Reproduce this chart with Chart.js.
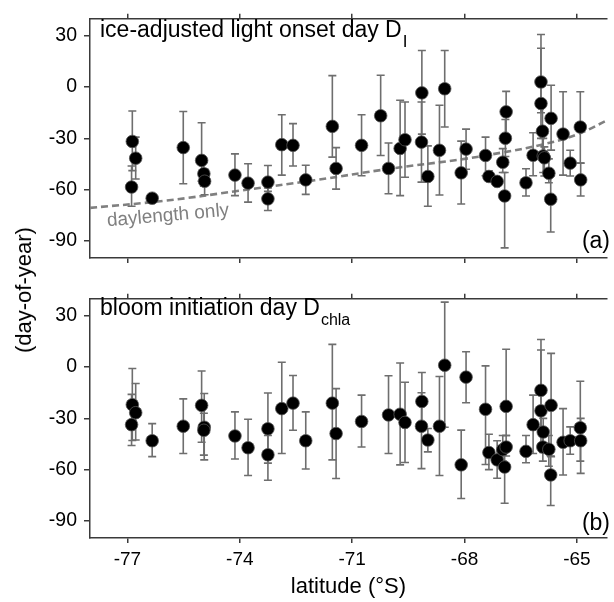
<!DOCTYPE html>
<html><head><meta charset="utf-8">
<script src="https://cdn.jsdelivr.net/npm/chart.js@4.4.1/dist/chart.umd.min.js"></script>
<style>
html,body{margin:0;padding:0;background:#fff;width:614px;height:602px;overflow:hidden;}
#wa{position:absolute;left:0;top:0;width:614px;height:280px;}
#wb{position:absolute;left:0;top:280px;width:614px;height:322px;}
#ytitle{position:absolute;left:24px;top:290px;transform:translate(-50%,-50%) rotate(-90deg);font:22px "Liberation Sans",Arial,sans-serif;color:#000;white-space:nowrap;}
</style></head><body>
<div id="wa"><canvas id="ca" width="614" height="280"></canvas></div>
<div id="wb"><canvas id="cb" width="614" height="322"></canvas></div>
<div id="ytitle">(day-of-year)</div>
<script>
// ---- data ----
const xTicks = [-77, -74, -71, -68, -65];
const yTicks = [30, 0, -30, -60, -90];

// panel (a): ice-adjusted light onset day
const latA = [-76.87,-76.78,-76.89,-76.34,-75.51,-75.02,-74.96,-74.94,-74.13,-73.78,-73.25,-73.25,-72.88,-72.58,-72.24,-71.53,-71.43,-70.75,-70.24,-70.03,-69.72,-69.59,-69.14,-69.15,-68.98,-68.67,-68.53,-68.09,-67.96,-67.44,-67.35,-67.13,-66.98,-66.93,-66.91,-66.89,-66.36,-66.17,-65.96,-65.96,-65.92,-65.90,-65.87,-65.75,-65.69,-65.70,-65.37,-65.18,-64.91,-64.90];
const valA = [-31.8,-41.6,-58.5,-65.0,-35.4,-42.9,-50.7,-55.1,-51.5,-56.2,-55.6,-65.4,-33.7,-34.1,-54.3,-23.0,-47.6,-34.1,-16.8,-47.6,-35.9,-30.8,-3.4,-32.2,-52.3,-37.0,-1.0,-50.2,-36.3,-40.0,-52.3,-55.2,-44.0,-63.7,-29.9,-14.5,-56.0,-39.9,3.0,-9.6,-25.8,-40.3,-41.4,-50.4,-18.3,-65.6,-27.5,-44.5,-23.4,-54.3];
const loA  = [-48.9,-53.8,-69.7,-67.0,-56.6,-55.0,-58.0,-63.0,-63.5,-67.3,-61.0,-72.2,-51.5,-46.2,-62.8,-41.0,-59.7,-51.9,-40.0,-62.4,-63.5,-52.8,-27.5,-55.6,-69.7,-63.1,-23.4,-68.4,-48.1,-51.9,-55.0,-57.0,-50.0,-94.1,-40.6,-28.0,-63.7,-51.9,-15.0,-30.0,-40.0,-50.0,-52.0,-56.0,-36.9,-84.8,-51.5,-52.0,-44.4,-63.7];
const hiA  = [-14.0,-29.3,-46.2,-63.0,-14.3,-20.9,-44.0,-48.0,-39.1,-44.9,-45.9,-59.0,-16.2,-21.4,-45.7,6.7,-35.4,-16.2,6.9,-32.7,-7.7,-8.7,21.4,-8.7,-34.4,-10.6,21.4,-31.6,-24.6,-29.3,-49.0,-53.0,-36.0,-50.0,-19.0,-2.5,-47.8,-26.7,30.8,22.7,-10.0,-30.0,-35.0,-42.0,1.1,-52.0,-2.7,-37.0,-2.7,-44.5];

// daylength-only curve (panel a)
const dayLat = [-78,-76,-74,-72,-70,-68,-67,-66,-65,-64.2];
const dayVal = [-70.7,-66.5,-60.6,-54.5,-47.8,-42.0,-38.3,-34.0,-27.8,-19.5];

// panel (b): bloom initiation day
const latB = [-76.87,-76.78,-76.89,-76.34,-75.51,-75.02,-74.95,-74.96,-74.13,-73.78,-73.25,-73.25,-72.88,-72.58,-72.24,-71.53,-71.43,-70.75,-70.03,-69.72,-69.59,-69.14,-69.15,-68.98,-68.67,-68.53,-67.96,-68.09,-67.44,-67.35,-67.13,-66.98,-66.89,-66.93,-66.89,-66.36,-66.17,-65.96,-65.96,-65.90,-65.91,-65.75,-65.69,-65.70,-65.37,-65.18,-64.91,-64.90];
const valB = [-22.0,-26.7,-33.7,-43.1,-34.6,-22.4,-35.2,-37.0,-40.3,-47.2,-36.1,-51.3,-24.3,-21.1,-43.1,-21.1,-38.9,-31.8,-28.0,-27.6,-32.4,-20.1,-34.6,-42.7,-34.6,1.1,-5.9,-57.2,-24.7,-50.0,-54.3,-48.3,-46.8,-58.5,-23.0,-49.3,-33.7,-13.6,-25.6,-38.0,-46.8,-48.1,-22.4,-63.1,-44.0,-43.1,-35.5,-43.1];
const loB  = [-43.0,-42.7,-45.9,-52.4,-50.6,-44.0,-54.3,-51.5,-53.8,-63.4,-56.2,-66.2,-50.6,-37.0,-59.6,-54.3,-65.2,-46.8,-50.6,-57.2,-55.8,-35.0,-59.4,-49.6,-63.4,-35.2,-20.9,-76.9,-57.0,-60.0,-65.0,-55.0,-52.0,-79.7,-40.0,-56.0,-50.6,-35.0,-45.0,-50.0,-55.0,-58.0,-52.4,-81.0,-63.1,-51.0,-55.0,-62.2];
const hiB  = [-0.8,-9.6,-16.0,-33.1,-18.6,-2.3,-15.5,-27.0,-26.2,-30.5,-15.2,-40.0,2.8,-4.9,-26.2,13.3,-12.6,-16.4,-5.1,2.4,-8.9,-3.2,-15.0,-35.9,-5.5,38.0,9.0,-36.9,0.7,-39.3,-43.1,-40.0,-40.0,-45.0,10.4,-40.0,-16.4,16.1,10.0,-30.0,-38.0,-40.0,8.0,-52.0,-24.3,-35.0,-8.3,-30.0];

// ---- styling / helpers ----
const FONT = '"Liberation Sans", Arial, sans-serif';
const FRAME = '#3a3a3a';

function pts(lat, val){ return lat.map((x,i)=>({x:x, y:val[i]})); }

function errorBarPlugin(lo, hi){
  return {
    id:'errbars',
    beforeDatasetDraw(chart, args){
      if(args.index !== 0) return;
      const ctx = chart.ctx, xs = chart.scales.x, ys = chart.scales.y;
      const data = chart.data.datasets[0].data;
      ctx.save();
      ctx.strokeStyle = '#6e6e6e';
      ctx.lineWidth = 1.6;
      data.forEach((p,i)=>{
        const x = xs.getPixelForValue(p.x);
        const y1 = ys.getPixelForValue(lo[i]);
        const y2 = ys.getPixelForValue(hi[i]);
        ctx.beginPath();
        ctx.moveTo(x,y1); ctx.lineTo(x,y2);
        ctx.moveTo(x-4,y1); ctx.lineTo(x+4,y1);
        ctx.moveTo(x-4,y2); ctx.lineTo(x+4,y2);
        ctx.stroke();
      });
      ctx.restore();
    }
  };
}

function labelPlugin(drawFn){
  return { id:'labels', afterDraw(chart){ const ctx=chart.ctx; ctx.save(); drawFn(ctx, chart); ctx.restore(); } };
}

function makeScales(opts){
  const setX = s => { s.ticks = xTicks.map(v=>({value:v})); };
  return {
    x: {
      type:'linear', position:'bottom', min:-78, max:-64.2,
      afterBuildTicks:setX,
      afterFit:s=>{ s.height = opts.bottomH; },
      grid:{drawOnChartArea:false, drawTicks:true, tickLength:5, color:FRAME, lineWidth:1.5},
      border:{display:true, color:FRAME, width:1.5},
      ticks:{display:opts.showX, color:'#000', font:{family:FONT,size:19}, padding:5, maxRotation:0},
      title:{display:opts.showX, text:'latitude (°S)', color:'#000', font:{family:FONT,size:22}, padding:{top:0,bottom:2}}
    },
    x2: {
      type:'linear', position:'top', min:-78, max:-64.2,
      afterBuildTicks:setX,
      afterFit:s=>{ s.height = opts.topH; },
      grid:{drawOnChartArea:false, drawTicks:true, tickLength:5, color:FRAME, lineWidth:1.5},
      border:{display:true, color:FRAME, width:1.5},
      ticks:{display:false}
    },
    y: {
      type:'linear', position:'left', min:-100, max:40,
      afterBuildTicks:s=>{ s.ticks = yTicks.map(v=>({value:v})); },
      afterFit:s=>{ s.width = 90; },
      grid:{drawOnChartArea:false, drawTicks:true, tickLength:6, color:FRAME, lineWidth:1.5},
      border:{display:true, color:FRAME, width:1.5},
      ticks:{color:'#000', font:{family:FONT,size:19.5}, padding:7}
    }
  };
}

const pointStyle = {
  type:'scatter', pointRadius:6.3, pointHoverRadius:6.3,
  pointBackgroundColor:'#000', pointBorderColor:'#555', pointBorderWidth:0.8,
  showLine:false, order:1
};

const common = {
  responsive:false, animation:false, devicePixelRatio:1,
  layout:{padding:0},
  plugins:{legend:{display:false}, tooltip:{enabled:false}}
};

// ---- panel (a) ----
new Chart(document.getElementById('ca'), {
  type:'scatter',
  data:{ datasets:[
    Object.assign({label:'DI', data:pts(latA,valA)}, pointStyle),
    { type:'line', label:'daylength', data:pts(dayLat,dayVal), borderColor:'#808080', borderWidth:2.6,
      borderDash:[7,4], pointRadius:0, tension:0.4, fill:false, order:2 }
  ]},
  options:Object.assign({}, common, { scales:makeScales({bottomH:22, topH:10, showX:false}) }),
  plugins:[errorBarPlugin(loA,hiA), labelPlugin((ctx, chart)=>{
    ctx.fillStyle='#000';
    ctx.textBaseline='alphabetic';
    ctx.font='23px '+FONT;
    const t='ice-adjusted light onset day D';
    ctx.fillText(t, 100, 37);
    const w=ctx.measureText(t).width;
    ctx.font='17px '+FONT;
    ctx.fillText('I', 100+w+1, 47);
    ctx.font='23px '+FONT;
    ctx.textAlign='right';
    ctx.fillText('(a)', 610, 248);
    ctx.textAlign='center';
    ctx.fillStyle='#808080';
    ctx.font='19px '+FONT;
    ctx.translate(168, 215);
    ctx.rotate(-5*Math.PI/180);
    ctx.fillText('daylength only', 0, 6);
  })]
});

// ---- panel (b) ----
new Chart(document.getElementById('cb'), {
  type:'scatter',
  data:{ datasets:[ Object.assign({label:'Dchla', data:pts(latB,valB)}, pointStyle) ]},
  options:Object.assign({}, common, { scales:makeScales({bottomH:64, topH:9, showX:true}) }),
  plugins:[errorBarPlugin(loB,hiB), labelPlugin((ctx)=>{
    ctx.fillStyle='#000';
    ctx.textBaseline='alphabetic';
    ctx.font='23px '+FONT;
    const t='bloom initiation day D';
    ctx.fillText(t, 100, 35);
    const w=ctx.measureText(t).width;
    ctx.font='16px '+FONT;
    ctx.fillText('chla', 100+w+1, 45);
    ctx.font='23px '+FONT;
    ctx.textAlign='right';
    ctx.fillText('(b)', 610, 250);
  })]
});
</script>
</body></html>
